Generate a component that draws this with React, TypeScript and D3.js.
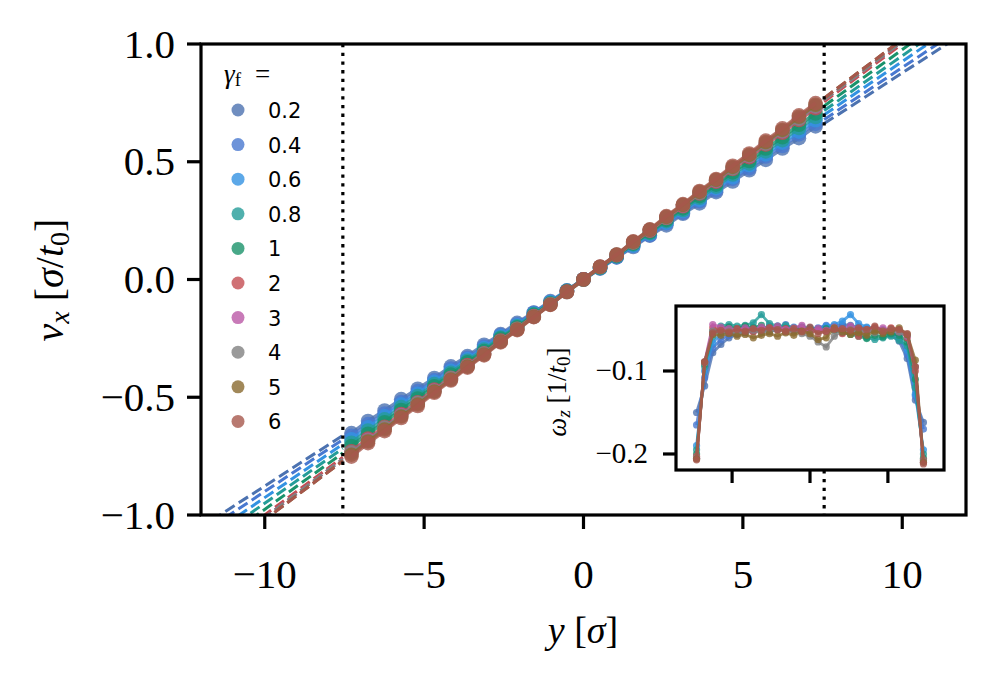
import React from "react";
import * as d3 from "d3";

const Y_POS = [-7.28,-6.76,-6.24,-5.72,-5.2,-4.68,-4.16,-3.64,-3.12,-2.6,-2.08,-1.56,-1.04,-0.52,0,0.52,1.04,1.56,2.08,2.6,3.12,3.64,4.16,4.68,5.2,5.72,6.24,6.76,7.28];

const SERIES_LABELS = ["0.2","0.4","0.6","0.8","1","2","3","4","5","6"];
const SERIES_COLORS = ["#4C72B0","#4878D0","#3392E2","#249C98","#1A926A","#C44E52","#BA59A6","#818181","#8A6A30","#A6574C"];

const VX_02 = [-0.652,-0.601,-0.556,-0.508,-0.464,-0.418,-0.369,-0.325,-0.277,-0.232,-0.184,-0.140,-0.092,-0.047,0.001,0.046,0.094,0.138,0.186,0.230,0.279,0.323,0.371,0.416,0.464,0.508,0.556,0.600,0.650];
const VX_04 = [-0.664,-0.614,-0.569,-0.520,-0.474,-0.427,-0.378,-0.332,-0.285,-0.236,-0.190,-0.141,-0.096,-0.046,0.000,0.048,0.094,0.143,0.188,0.238,0.283,0.332,0.378,0.427,0.472,0.522,0.567,0.616,0.661];
const VX_06 = [-0.679,-0.628,-0.581,-0.530,-0.485,-0.434,-0.388,-0.338,-0.291,-0.241,-0.194,-0.146,-0.096,-0.049,0.001,0.048,0.098,0.144,0.194,0.241,0.291,0.338,0.388,0.434,0.485,0.531,0.581,0.628,0.676];
const VX_08 = [-0.693,-0.641,-0.594,-0.542,-0.495,-0.444,-0.396,-0.345,-0.297,-0.246,-0.199,-0.147,-0.100,-0.048,0.000,0.050,0.098,0.149,0.197,0.248,0.295,0.347,0.394,0.446,0.493,0.544,0.592,0.643,0.690];
const VX_1 = [-0.707,-0.655,-0.606,-0.554,-0.505,-0.453,-0.404,-0.352,-0.304,-0.251,-0.203,-0.150,-0.102,-0.049,0.001,0.051,0.100,0.152,0.201,0.253,0.302,0.354,0.403,0.455,0.503,0.556,0.604,0.657,0.705];
const VX_2 = [-0.729,-0.675,-0.625,-0.571,-0.521,-0.467,-0.417,-0.363,-0.313,-0.259,-0.209,-0.155,-0.105,-0.051,0.000,0.053,0.103,0.157,0.207,0.261,0.311,0.365,0.415,0.469,0.519,0.573,0.623,0.677,0.727];
const VX_3 = [-0.736,-0.681,-0.631,-0.576,-0.526,-0.472,-0.421,-0.367,-0.316,-0.262,-0.211,-0.157,-0.106,-0.052,0.001,0.054,0.104,0.159,0.209,0.264,0.314,0.369,0.419,0.474,0.524,0.579,0.629,0.684,0.734];
const VX_4 = [-0.734,-0.684,-0.629,-0.579,-0.524,-0.474,-0.419,-0.369,-0.314,-0.264,-0.209,-0.159,-0.104,-0.054,-0.001,0.052,0.106,0.157,0.211,0.262,0.316,0.367,0.421,0.472,0.526,0.577,0.631,0.682,0.736];
const VX_5 = [-0.744,-0.688,-0.637,-0.582,-0.531,-0.476,-0.425,-0.370,-0.319,-0.264,-0.213,-0.158,-0.107,-0.052,0.000,0.054,0.105,0.160,0.211,0.266,0.317,0.372,0.423,0.478,0.529,0.584,0.635,0.691,0.742];
const VX_6 = [-0.752,-0.695,-0.644,-0.588,-0.537,-0.481,-0.429,-0.374,-0.322,-0.267,-0.215,-0.160,-0.108,-0.053,0.001,0.055,0.106,0.162,0.213,0.269,0.320,0.376,0.427,0.483,0.535,0.590,0.642,0.697,0.749];

const WZ_02 = [-0.150,-0.118,-0.078,-0.068,-0.060,-0.056,-0.054,-0.052,-0.051,-0.053,-0.050,-0.049,-0.051,-0.050,-0.048,-0.049,-0.047,-0.046,-0.044,-0.045,-0.047,-0.048,-0.050,-0.053,-0.057,-0.064,-0.085,-0.135,-0.162];
const WZ_04 = [-0.165,-0.108,-0.072,-0.062,-0.057,-0.053,-0.050,-0.048,-0.052,-0.046,-0.049,-0.044,-0.050,-0.047,-0.051,-0.048,-0.045,-0.049,-0.046,-0.050,-0.048,-0.052,-0.049,-0.051,-0.054,-0.060,-0.080,-0.130,-0.170];
const WZ_06 = [-0.190,-0.100,-0.066,-0.055,-0.052,-0.049,-0.051,-0.047,-0.050,-0.048,-0.046,-0.049,-0.047,-0.050,-0.048,-0.051,-0.046,-0.044,-0.040,-0.032,-0.043,-0.047,-0.049,-0.050,-0.052,-0.058,-0.075,-0.128,-0.195];
const WZ_08 = [-0.195,-0.095,-0.058,-0.046,-0.044,-0.046,-0.045,-0.042,-0.032,-0.043,-0.046,-0.045,-0.048,-0.047,-0.049,-0.050,-0.052,-0.048,-0.053,-0.051,-0.055,-0.060,-0.062,-0.060,-0.058,-0.063,-0.070,-0.120,-0.200];
const WZ_1 = [-0.200,-0.092,-0.052,-0.048,-0.047,-0.049,-0.046,-0.048,-0.045,-0.050,-0.047,-0.049,-0.051,-0.048,-0.050,-0.052,-0.049,-0.051,-0.054,-0.056,-0.058,-0.061,-0.057,-0.059,-0.055,-0.057,-0.065,-0.110,-0.205];
const WZ_2 = [-0.203,-0.090,-0.048,-0.050,-0.052,-0.049,-0.051,-0.053,-0.050,-0.048,-0.051,-0.049,-0.052,-0.050,-0.054,-0.051,-0.053,-0.049,-0.055,-0.052,-0.058,-0.050,-0.047,-0.053,-0.048,-0.050,-0.060,-0.100,-0.207];
const WZ_3 = [-0.205,-0.089,-0.044,-0.047,-0.049,-0.051,-0.048,-0.050,-0.047,-0.049,-0.046,-0.050,-0.048,-0.045,-0.052,-0.049,-0.051,-0.047,-0.050,-0.046,-0.049,-0.052,-0.050,-0.048,-0.051,-0.053,-0.058,-0.095,-0.210];
const WZ_4 = [-0.205,-0.090,-0.052,-0.054,-0.052,-0.055,-0.053,-0.051,-0.054,-0.052,-0.050,-0.053,-0.051,-0.055,-0.058,-0.065,-0.071,-0.058,-0.052,-0.050,-0.053,-0.051,-0.054,-0.052,-0.050,-0.053,-0.057,-0.095,-0.208];
const WZ_5 = [-0.206,-0.089,-0.056,-0.057,-0.055,-0.058,-0.056,-0.060,-0.057,-0.055,-0.058,-0.054,-0.057,-0.052,-0.055,-0.062,-0.060,-0.048,-0.053,-0.056,-0.054,-0.057,-0.052,-0.055,-0.053,-0.048,-0.056,-0.087,-0.210];
const WZ_6 = [-0.207,-0.089,-0.054,-0.051,-0.053,-0.050,-0.052,-0.049,-0.051,-0.048,-0.050,-0.052,-0.049,-0.053,-0.047,-0.055,-0.052,-0.050,-0.049,-0.051,-0.048,-0.050,-0.046,-0.052,-0.049,-0.050,-0.055,-0.095,-0.212];

const FIT_SLOPES = [0.0877,0.0900,0.0926,0.0950,0.0976,0.1000,0.1010,0.1010,0.1020,0.1020];

const X_TICKS = [-10,-5,0,5,10];
const Y_TICKS = [-1,-0.5,0,0.5,1];
const INSET_X_TICKS = [-5,0,5];
const INSET_Y_TICKS = [-0.1,-0.2];
const CUT_Y = 7.55;

const VX_DATA = [VX_02,VX_04,VX_06,VX_08,VX_1,VX_2,VX_3,VX_4,VX_5,VX_6];
const WZ_DATA = [WZ_02,WZ_04,WZ_06,WZ_08,WZ_1,WZ_2,WZ_3,WZ_4,WZ_5,WZ_6];

const SERIF = "'Liberation Serif', 'DejaVu Serif', serif";
const SANS = "'DejaVu Sans', sans-serif";

const fmtMinus = (s: string) => s.replace("-", "\u2212");

export default function App() {
  const L = 201, R = 966, T = 44, B = 515;
  const xS = d3.scaleLinear().domain([-12, 12]).range([L, R]);
  const yS = d3.scaleLinear().domain([-1, 1]).range([B, T]);

  const iL = 676, iR = 944, iT = 306, iB = 470;
  const ixS = d3.scaleLinear().domain([-8.6, 8.6]).range([iL, iR]);
  const iyS = d3.scaleLinear().domain([-0.2193, -0.0217]).range([iB, iT]);

  const line = d3.line<number>().x((_, i) => xS(Y_POS[i])).y(d => yS(d));
  const iline = d3.line<number>().x((_, i) => ixS(Y_POS[i])).y(d => iyS(d));

  const legendX = 238, legendY0 = 110, legendDy = 34.6;

  return (
    <svg width={997} height={682} style={{ position: "absolute", left: 0, top: 0, background: "#fff" }}>
      <defs>
        <clipPath id="mainClip"><rect x={L} y={T} width={R - L} height={B - T} /></clipPath>
        <clipPath id="insetClip"><rect x={iL} y={iT} width={iR - iL} height={iB - iT} /></clipPath>
      </defs>
      <rect x={0} y={0} width={997} height={682} fill="#fff" />

      {/* dashed extrapolations */}
      <g clipPath="url(#mainClip)">
        {FIT_SLOPES.map((s, i) => (
          <g key={"d" + i}>
            <line x1={xS(-12.5)} y1={yS(-12.5 * s)} x2={xS(-CUT_Y)} y2={yS(-CUT_Y * s)}
              stroke={SERIES_COLORS[i]} strokeWidth={3} strokeDasharray="11 5" />
            <line x1={xS(CUT_Y)} y1={yS(CUT_Y * s)} x2={xS(12.5)} y2={yS(12.5 * s)}
              stroke={SERIES_COLORS[i]} strokeWidth={3} strokeDasharray="11 5" />
          </g>
        ))}
      </g>

      {/* data */}
      <g clipPath="url(#mainClip)">
        {VX_DATA.map((arr, i) => (
          <g key={"s" + i}>
            <path d={line(arr) || ""} fill="none" stroke={SERIES_COLORS[i]} strokeWidth={3.5} strokeOpacity={0.8} />
            {arr.map((v, j) => (
              <circle key={j} cx={xS(Y_POS[j])} cy={yS(v)} r={7.3} fill={SERIES_COLORS[i]} fillOpacity={0.8} />
            ))}
          </g>
        ))}
      </g>

      {/* dotted verticals */}
      {[-CUT_Y, CUT_Y].map((v, i) => (
        <line key={"v" + i} x1={xS(v)} x2={xS(v)} y1={T} y2={B} stroke="#000" strokeWidth={3.2} strokeDasharray="3.3 5.4" />
      ))}

      {/* legend */}
      <text x={224} y={83} fontFamily={SERIF} fontSize={27}>
        <tspan fontStyle="italic">γ</tspan>
        <tspan fontSize={19} dy={3}>f</tspan>
        <tspan dy={-3} dx={14}>=</tspan>
      </text>
      {SERIES_LABELS.map((lab, i) => (
        <g key={"l" + i}>
          <circle cx={legendX} cy={legendY0 + i * legendDy} r={6.5} fill={SERIES_COLORS[i]} fillOpacity={0.8} />
          <text x={268} y={legendY0 + i * legendDy + 8} fontFamily={SANS} fontSize={21}>{lab}</text>
        </g>
      ))}

      {/* inset */}
      <rect x={iL} y={iT} width={iR - iL} height={iB - iT} fill="#fff" />
      <g clipPath="url(#insetClip)">
        {WZ_DATA.map((arr, i) => (
          <g key={"w" + i}>
            <path d={iline(arr) || ""} fill="none" stroke={SERIES_COLORS[i]} strokeWidth={2.8} strokeOpacity={0.8} />
            {arr.map((v, j) => (
              <circle key={j} cx={ixS(Y_POS[j])} cy={iyS(v)} r={3.6} fill={SERIES_COLORS[i]} fillOpacity={0.8} />
            ))}
          </g>
        ))}
      </g>
      <rect x={iL} y={iT} width={iR - iL} height={iB - iT} fill="none" stroke="#000" strokeWidth={3.2} />
      {INSET_X_TICKS.map(t => (
        <line key={"ixt" + t} x1={ixS(t)} x2={ixS(t)} y1={iB} y2={iB + 13} stroke="#000" strokeWidth={3.2} />
      ))}
      {INSET_Y_TICKS.map(t => (
        <g key={"iyt" + t}>
          <line x1={iL - 13} x2={iL} y1={iyS(t)} y2={iyS(t)} stroke="#000" strokeWidth={3.2} />
          <text x={iL - 28} y={iyS(t) + 9.5} textAnchor="end" fontFamily={SERIF} fontSize={29}>{fmtMinus(String(t))}</text>
        </g>
      ))}
      <text transform={`translate(566,392) rotate(-90)`} textAnchor="middle" fontFamily={SERIF} fontSize={27}>
        <tspan fontStyle="italic">ω</tspan>
        <tspan fontStyle="italic" fontSize={19} dy={4}>z</tspan>
        <tspan dy={-4}> [1/</tspan>
        <tspan fontStyle="italic">t</tspan>
        <tspan fontSize={19} dy={4}>0</tspan>
        <tspan dy={-4}>]</tspan>
      </text>

      {/* main frame */}
      <rect x={L} y={T} width={R - L} height={B - T} fill="none" stroke="#000" strokeWidth={3.2} />
      {X_TICKS.map(t => (
        <g key={"xt" + t}>
          <line x1={xS(t)} x2={xS(t)} y1={B} y2={B + 14} stroke="#000" strokeWidth={3.2} />
          <text x={xS(t)} y={588} textAnchor="middle" fontFamily={SERIF} fontSize={41}>{fmtMinus(String(t))}</text>
        </g>
      ))}
      {Y_TICKS.map(t => (
        <g key={"yt" + t}>
          <line x1={L - 14} x2={L} y1={yS(t)} y2={yS(t)} stroke="#000" strokeWidth={3.2} />
          <text x={175} y={yS(t) + 13.5} textAnchor="end" fontFamily={SERIF} fontSize={41}>{fmtMinus(t.toFixed(1))}</text>
        </g>
      ))}
      <text x={583} y={643} textAnchor="middle" fontFamily={SERIF} fontSize={38}>
        <tspan fontStyle="italic">y</tspan>
        <tspan> [</tspan>
        <tspan fontStyle="italic">σ</tspan>
        <tspan>]</tspan>
      </text>
      <text transform={`translate(63,280) rotate(-90)`} textAnchor="middle" fontFamily={SERIF} fontSize={40}>
        <tspan fontStyle="italic">v</tspan>
        <tspan fontStyle="italic" fontSize={28} dy={6}>x</tspan>
        <tspan dy={-6}> [</tspan>
        <tspan fontStyle="italic">σ</tspan>
        <tspan>/</tspan>
        <tspan fontStyle="italic">t</tspan>
        <tspan fontSize={28} dy={6}>0</tspan>
        <tspan dy={-6}>]</tspan>
      </text>
    </svg>
  );
}
